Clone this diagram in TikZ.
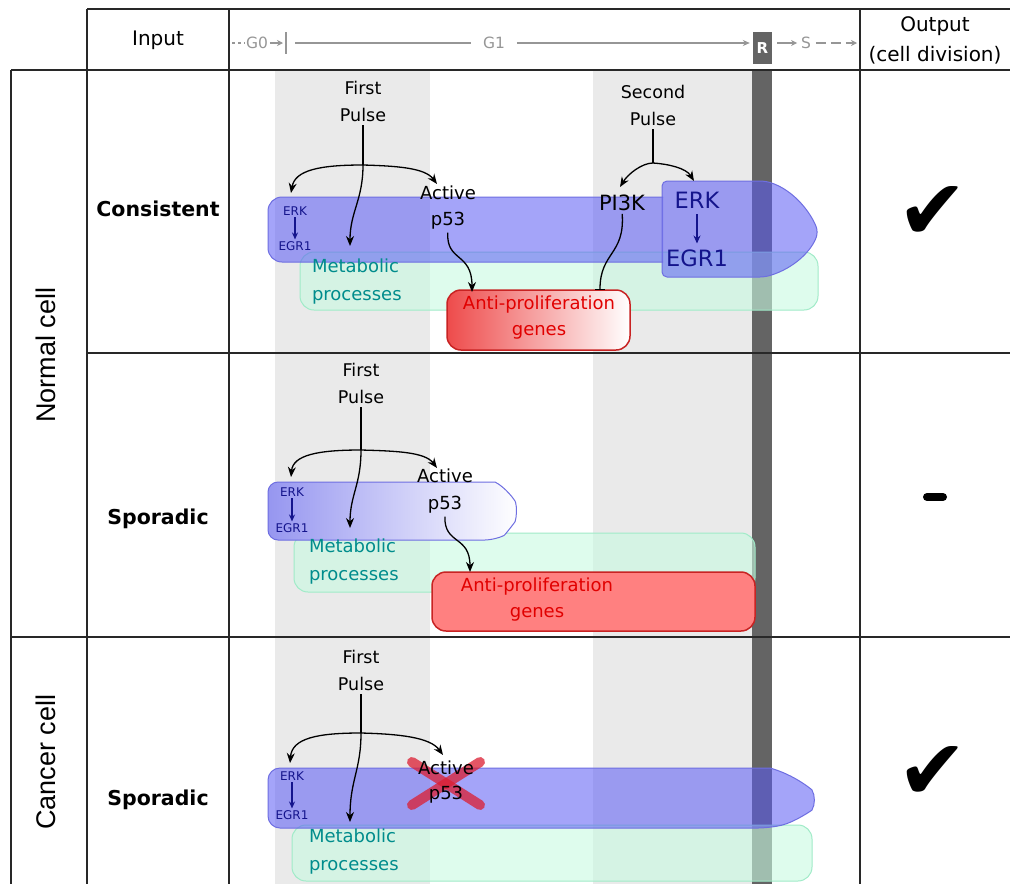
\documentclass[tikz,border=0pt]{standalone}
\usepackage{fontspec}
\setmainfont{DejaVu Sans}
\newfontfamily\arialf{Liberation Sans}
\newfontfamily\djv{DejaVu Sans}
\usetikzlibrary{arrows.meta,shapes.geometric}
\definecolor{bandgray}{RGB}{234,234,234}
\definecolor{rbar}{RGB}{100,100,100}
\definecolor{bluefill}{RGB}{90,90,245}
\definecolor{blueedge}{RGB}{110,110,225}
\definecolor{bluelight}{RGB}{150,150,240}
\definecolor{greenfill}{RGB}{200,250,225}
\definecolor{greenedge}{RGB}{160,235,200}
\definecolor{redleft}{RGB}{238,75,75}
\definecolor{redfill}{RGB}{255,128,128}
\definecolor{rededge}{RGB}{200,35,35}
\definecolor{navy}{RGB}{20,20,140}
\definecolor{tealt}{RGB}{0,140,140}
\definecolor{redt}{RGB}{225,0,0}
\definecolor{hdrgray}{RGB}{150,150,150}
\definecolor{gridc}{RGB}{40,40,40}
\definecolor{xred}{RGB}{220,30,50}
\tikzset{
  arr/.style={-{Stealth[length=10pt,width=8pt]}, line width=1.3pt, black},
  ln/.style={line width=1.3pt, black},
  barr/.style={-{Stealth[length=7pt,width=6pt]}, line width=1.3pt, navy, shorten <=2pt, shorten >=2pt},
  bigbarr/.style={-{Stealth[length=8pt,width=7pt]}, line width=1.3pt, navy, shorten <=6pt, shorten >=6pt},
  tl/.style={hdrgray, line width=1.8pt},
  txt/.style={inner sep=0pt, outer sep=0pt},
  pulse/.style={txt, align=center, font=\fontsize{17.5}{27}\selectfont},
  smallblue/.style={txt, text=navy, font=\fontsize{12}{12}\selectfont},
  bigblue/.style={txt, text=navy, font=\fontsize{22.5}{24}\selectfont},
  act/.style={txt, font=\fontsize{18}{18}\selectfont},
  meta/.style={txt, text=tealt, align=left, font=\fontsize{18}{28}\selectfont},
  anti/.style={txt, text=redt, align=center, font=\fontsize{18}{26}\selectfont},
  rowlab/.style={txt, font=\bfseries\fontsize{20.5}{24}\selectfont},
  celllab/.style={txt, rotate=90, font=\arialf\fontsize{27}{30}\selectfont},
  hdr/.style={txt, align=center, font=\fontsize{20}{30}\selectfont},
  tltext/.style={txt, text=hdrgray, font=\fontsize{15.5}{15}\selectfont},
  bluesh/.style={fill=bluefill, fill opacity=0.55, draw=blueedge, line width=1pt},
  greensh/.style={fill=greenfill, fill opacity=0.6, draw=greenedge, line width=1pt},
  gridline/.style={gridc, line width=1.5pt},
}
\begin{document}
\begin{tikzpicture}[x=1pt,y=-1pt]
\useasboundingbox (0,0) rectangle (1010,884);
\fill[white] (0,0) rectangle (1010,884);
% background bands
\fill[bandgray] (275,70) rectangle (430,884);
\fill[bandgray] (593,70) rectangle (752,884);
\fill[rbar] (752,70) rectangle (772,884);

% ---------- row 1 shapes
\draw[greensh, rounded corners=14pt] (300,252) rectangle (818,310);
\draw[bluesh, rounded corners=14pt] (663,197) -- (268,197) -- (268,262) -- (663,262);
\draw[bluesh, rounded corners=5pt] (662,181) -- (765,181)
   .. controls (795,190) and (812,215) .. (818,232)
   .. controls (812,250) and (795,268) .. (765,277) -- (662,277) -- cycle;
\draw[rounded corners=14pt, left color=redleft, right color=white, draw=rededge, line width=1.5pt] (447,290) rectangle (630,350);

% ---------- row 2 shapes
\draw[greensh, rounded corners=14pt] (294,533) rectangle (755,592);
\draw[rounded corners=10pt, left color=bluelight, right color=white, draw=blueedge, line width=1pt]
   (495,482) -- (268,482) -- (268,540) -- (495,540)
   .. controls (505,535) and (515,522) .. (518,512)
   .. controls (515,500) and (505,487) .. (495,482);
\draw[rounded corners=14pt, fill=redfill, draw=rededge, line width=1.5pt] (432,572) rectangle (755,631);

% ---------- row 3 shapes
\draw[greensh, rounded corners=14pt] (292,825) rectangle (812,881);
\draw[bluesh, rounded corners=12pt] (770,768) -- (268,768) -- (268,828) -- (770,828)
   .. controls (795,822) and (812,810) .. (818,800)
   .. controls (812,790) and (795,775) .. (770,768);
\draw[xred, opacity=0.75, line width=10pt, line cap=round] (412,762) -- (480,805);
\draw[xred, opacity=0.75, line width=10pt, line cap=round] (412,805) -- (480,762);

% ---------- header
\node[hdr] (input) at (158,40) {Input};
\node[hdr] (output) at (935,40) {Output\\(cell division)};
\node[tltext] (g0) at (257,43) {G0};
\coordinate (g0s) at (232,43);
\coordinate (g0bar) at (283,43);
\draw[tl, line width=1.5pt, dash pattern=on 3pt off 3pt] (g0s) -- ([xshift=-2pt]g0.west);
\draw[tl, -{Stealth[length=6pt,width=6pt]}] ([xshift=2pt]g0.east) -- (g0bar);
\draw[hdrgray, line width=2pt] (286,32) -- (286,54);
\node[tltext] (g1) at (494,43) {G1};
\coordinate (g1s) at (295,43);
\draw[tl] (g1s) -- ([xshift=-12pt]g1.west);
\node[fill=rbar, text=white, inner sep=0pt, minimum width=19pt, minimum height=32pt, font=\bfseries\fontsize{15}{16}\selectfont] (r) at (762.5,48) {R};
\draw[tl, -{Stealth[length=7pt,width=6pt]}] ([xshift=12pt]g1.east) -- ([xshift=-3pt]r.west|-g1);
\node[tltext] (s) at (806,43) {S};
\draw[tl, -{Stealth[length=6pt,width=6pt]}] ([xshift=5pt]r.east|-s) -- ([xshift=-4pt]s.west);
\coordinate (send) at (857,43);
\draw[tl, dash pattern=on 10pt off 5pt, -{Stealth[length=6pt,width=6pt]}] ([xshift=5pt]s.east) -- (send);

% ---------- row labels
\node[celllab] (normal) at (46,355) {Normal cell};
\node[celllab] (cancer) at (46,762) {Cancer cell};
\node[rowlab] (cons) at (158,209) {Consistent};
\node[rowlab] (spor1) at (158,519) {Sporadic};
\node[rowlab] (spor2) at (158,800) {Sporadic};

% ---------- outputs
\node[txt, font=\djv\fontsize{84}{84}\selectfont] (ok1) at (933,213) {✔};
\coordinate (dashA) at (927,497);
\coordinate (dashB) at (943,497);
\draw[line width=8pt, line cap=round] (dashA) -- (dashB);
\node[txt, font=\djv\fontsize{84}{84}\selectfont] (ok3) at (933,773) {✔};

% ---------- row 1 texts + connectors
\node[pulse] (fp1) at (363,101) {First\\Pulse};
\coordinate (j1) at (363,165);
\node[smallblue] (erk1) at (295,211) {ERK};
\node[smallblue] (egr1) at (295,246) {EGR1};
\node[act] (act1) at (448,193) {Active};
\node[act] (p531) at (448,221) {p53};
\node[txt, font=\fontsize{21}{22}\selectfont] (pi3k) at (622,203) {PI3K};
\node[bigblue] (erkB) at (697,200) {ERK};
\node[bigblue] (egrB) at (697,258) {EGR1};
\node[meta, anchor=west] (meta1) at (312,282) {Metabolic\\processes};
\node[anti] (anti1) at (539,318) {Anti-proliferation\\genes};
\node[pulse] (sp) at (653,105) {Second\\Pulse};
\coordinate (j2) at (653,163);
\coordinate (t1e) at (291,193);
\coordinate (t1a) at (437,184);
\coordinate (t1d) at (350,246);
\coordinate (t1g) at (472,292);
\coordinate (t1b) at (600,290);
\coordinate (t1p) at (620,187);
\coordinate (t1k) at (694,181);
\draw[ln, shorten <=4pt] (fp1.south) -- (j1);
\draw[arr] (j1) .. controls (320,165) and (295,170) .. (t1e);
\draw[arr] (j1) .. controls (398,166) and (425,168) .. (t1a);
\draw[arr] (j1) .. controls (363,200) and (350,212) .. (t1d);
\draw[arr, shorten <=3pt] (p531.south) .. controls (446,262) and (472,252) .. (t1g);
\draw[line width=1.3pt, shorten <=3pt, -{Bar[width=10pt]}] (pi3k.south) .. controls (625,255) and (600,252) .. (t1b);
\draw[ln, shorten <=4pt] (sp.south) -- (j2);
\draw[arr] (j2) .. controls (642,163) and (628,174) .. (t1p);
\draw[arr] (j2) .. controls (668,164) and (686,168) .. (t1k);
\draw[barr] (erk1.south) -- (egr1.north);
\draw[bigbarr] (erkB.south) -- (egrB.north);

% ---------- row 2 texts + connectors
\node[pulse] (fp2) at (361,383) {First\\Pulse};
\coordinate (j2a) at (361,450);
\node[smallblue] (erk2) at (292,492) {ERK};
\node[smallblue] (egr2) at (292,528) {EGR1};
\node[act] (act2) at (445,476) {Active};
\node[act] (p532) at (445,505) {p53};
\node[meta, anchor=west] (meta2) at (309,562) {Metabolic\\processes};
\node[anti] (anti2) at (537,600) {Anti-proliferation\\genes};
\coordinate (t2e) at (291,477);
\coordinate (t2a) at (437,468);
\coordinate (t2d) at (350,528);
\coordinate (t2g) at (470,572);
\draw[ln, shorten <=4pt] (fp2.south) -- (j2a);
\draw[arr] (j2a) .. controls (318,450) and (293,455) .. (t2e);
\draw[arr] (j2a) .. controls (396,451) and (425,452) .. (t2a);
\draw[arr] (j2a) .. controls (361,485) and (350,495) .. (t2d);
\draw[arr, shorten <=3pt] (p532.south) .. controls (444,545) and (470,535) .. (t2g);
\draw[barr] (erk2.south) -- (egr2.north);

% ---------- row 3 texts + connectors
\node[pulse] (fp3) at (361,670) {First\\Pulse};
\coordinate (j3) at (361,733);
\node[smallblue] (erk3) at (292,776) {ERK};
\node[smallblue] (egr3) at (292,815) {EGR1};
\node[act] (act3) at (446,768) {Active};
\node[act] (p533) at (446,795) {p53};
\node[meta, anchor=west] (meta3) at (309,852) {Metabolic\\processes};
\coordinate (t3e) at (290,763);
\coordinate (t3a) at (443,755);
\coordinate (t3d) at (350,822);
\draw[ln, shorten <=4pt] (fp3.south) -- (j3);
\draw[arr] (j3) .. controls (318,733) and (292,738) .. (t3e);
\draw[arr] (j3) .. controls (398,734) and (430,737) .. (t3a);
\draw[arr] (j3) .. controls (361,770) and (350,780) .. (t3d);
\draw[barr] (erk3.south) -- (egr3.north);

% ---------- grid
\draw[gridline] (87,9) -- (1010,9);
\draw[gridline] (11,70) -- (1010,70);
\draw[gridline] (87,353) -- (1010,353);
\draw[gridline] (11,637) -- (1010,637);
\draw[gridline] (11,70) -- (11,884);
\draw[gridline] (87,9) -- (87,884);
\draw[gridline] (229,9) -- (229,884);
\draw[gridline] (860,9) -- (860,884);
\end{tikzpicture}
\end{document}
